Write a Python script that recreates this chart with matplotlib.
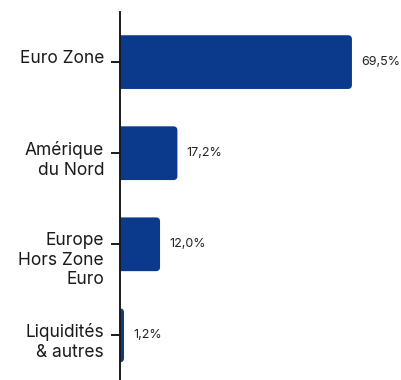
import matplotlib
matplotlib.use("Agg")
import matplotlib.pyplot as plt
from matplotlib.patches import FancyBboxPatch

regions = ["Euro Zone", "Amérique\ndu Nord", "Europe\nHors Zone\nEuro", "Liquidités\n& autres"]
weights = [69.5, 17.2, 12.0, 1.2]
value_labels = ["69,5%", "17,2%", "12,0%", "1,2%"]

plt.rcParams['font.family'] = ['Inter', 'DejaVu Sans']

fig = plt.figure(figsize=(4.02, 3.80), dpi=100)
# axes: x from 120px to right edge, y from 12px down to bottom edge
ax = fig.add_axes([120 / 402, 0, 282 / 402, 368 / 380])

blue = "#0b3a8c"
y = list(range(len(regions)))
bars = ax.barh(y, weights, height=0.59, color=blue)

ax.set_xlim(0, 84.5)
ax.set_ylim(3.49, -0.55)

# swap plain rectangles for ones with rounded right corners
r_x = 1.2
r_y = 0.044
for b in bars:
    x0, y0 = b.get_x(), b.get_y()
    w, h = b.get_width(), b.get_height()
    b.set_visible(False)
    p = FancyBboxPatch((x0 - 3, y0), w + 3, h,
                       boxstyle="round,pad=0,rounding_size=%g" % r_x,
                       mutation_aspect=r_y / r_x,
                       facecolor=blue, edgecolor="none")
    ax.add_patch(p)

for yi, v, lab in zip(y, weights, value_labels):
    ax.text(v + 2.8, yi, lab, va="center", ha="left", fontsize=9.0,
            color="#222222", clip_on=False)

ax.set_yticks(y)
ax.set_yticklabels([])
ax.tick_params(axis="y", length=6.5, width=1.4, color="#1a1a1a")
ax.set_xticks([])

# category labels: first line sits on its tick, the rest hangs below
for yi, name in zip(y, regions):
    ax.annotate(name, xy=(0, yi), xycoords=("axes fraction", "data"),
                xytext=(-11.5, 8.8), textcoords="offset points",
                ha="right", va="top", fontsize=12.5, color="#1a1a1a",
                linespacing=1.2, annotation_clip=False)

for s in ["top", "right", "bottom"]:
    ax.spines[s].set_visible(False)
ax.spines["left"].set_linewidth(1.4)
ax.spines["left"].set_color("#1a1a1a")

fig.savefig("out.png", dpi=100)
